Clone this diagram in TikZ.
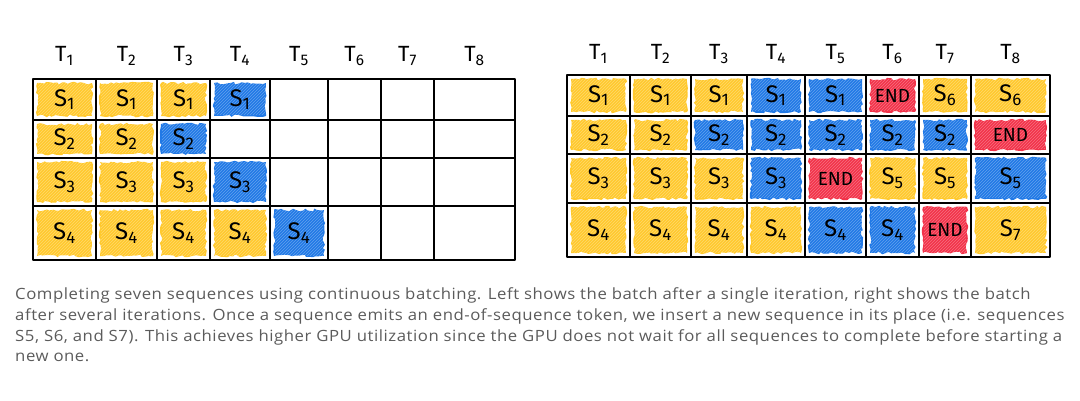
\documentclass[tikz,border=0pt]{standalone}
\usepackage{fontspec}
\setsansfont{Fira Sans}
\newfontfamily\captionfont[FakeStretch=1.08, LetterSpace=3.5]{Open Sans}
\usetikzlibrary{calc,decorations.pathmorphing,patterns}

\tikzset{
  gridline/.style={line width=1.8pt, line cap=round, line join=round},
  scribble/.style={decorate, decoration={random steps, segment length=3pt, amplitude=1.3pt}},
  celltext/.style={font=\sffamily\fontsize{24}{24}\selectfont, inner sep=0pt},
  endtext/.style={font=\sffamily\fontsize{19}{19}\selectfont, inner sep=0pt},
  headtext/.style={font=\sffamily\fontsize{22}{22}\selectfont, inner sep=0pt},
  captext/.style={font=\captionfont\fontsize{15.5}{21}\selectfont, text=capgray, inner sep=0pt, anchor=base west},
}

\begin{document}
\begin{tikzpicture}[x=1pt, y=-1pt]
    \definecolor{seqyellow}{HTML}{FFC92E}
    \definecolor{seqblue}{HTML}{2179E6}
    \definecolor{seqred}{HTML}{F2334A}
    \definecolor{capgray}{HTML}{5B5B5B}
    \pgfmathsetseed{42}

    \useasboundingbox (0,0) rectangle (1080,401);

    % Grid lines (columns are not quite even, hand drawn)
    \foreach \i/\x in {0/33,1/96,2/157,3/210,4/270,5/328,6/381,7/434,8/515}
        \coordinate (Lc\i) at (\x,0);
    \foreach \i/\y in {0/79,1/120,2/158,3/206,4/260}
        \coordinate (Lr\i) at (0,\y);
    \foreach \i/\x in {0/567,1/630,2/691,3/747,4/805,5/866,6/919,7/971,8/1050}
        \coordinate (Rc\i) at (\x,0);
    \foreach \i/\y in {0/75,1/116,2/154,3/203,4/257}
        \coordinate (Rr\i) at (0,\y);

    % Left batch: after a single iteration
    \foreach \r/\c/\clr/\txt [evaluate=\c as \pc using int(\c-1),
                              evaluate=\r as \pr using int(\r-1)] in
        {1/1/seqyellow/1, 1/2/seqyellow/1, 1/3/seqyellow/1, 1/4/seqblue/1,
         2/1/seqyellow/2, 2/2/seqyellow/2, 2/3/seqblue/2,
         3/1/seqyellow/3, 3/2/seqyellow/3, 3/3/seqyellow/3, 3/4/seqblue/3,
         4/1/seqyellow/4, 4/2/seqyellow/4, 4/3/seqyellow/4, 4/4/seqyellow/4, 4/5/seqblue/4}
    {
        \fill[\clr, scribble] ($(Lc\pc |- Lr\pr)+(4,4)$) rectangle ($(Lc\c |- Lr\r)+(-4,-4)$);
        \fill[pattern=north east lines, pattern color=white, opacity=.3]
            ($(Lc\pc |- Lr\pr)+(5,5)$) rectangle ($(Lc\c |- Lr\r)+(-5,-5)$);
        \node[celltext] (L-\r-\c) at ($(Lc\pc |- Lr\pr)!.5!(Lc\c |- Lr\r)$) {S\textsubscript{\txt}};
    }

    % Right batch: after several iterations
    \foreach \r/\c/\clr/\txt [evaluate=\c as \pc using int(\c-1),
                              evaluate=\r as \pr using int(\r-1)] in
        {1/1/seqyellow/1, 1/2/seqyellow/1, 1/3/seqyellow/1, 1/4/seqblue/1, 1/5/seqblue/1, 1/7/seqyellow/6, 1/8/seqyellow/6,
         2/1/seqyellow/2, 2/2/seqyellow/2, 2/3/seqblue/2, 2/4/seqblue/2, 2/5/seqblue/2, 2/6/seqblue/2, 2/7/seqblue/2,
         3/1/seqyellow/3, 3/2/seqyellow/3, 3/3/seqyellow/3, 3/4/seqblue/3, 3/6/seqyellow/5, 3/7/seqyellow/5, 3/8/seqblue/5,
         4/1/seqyellow/4, 4/2/seqyellow/4, 4/3/seqyellow/4, 4/4/seqyellow/4, 4/5/seqblue/4, 4/6/seqblue/4, 4/8/seqyellow/7}
    {
        \fill[\clr, scribble] ($(Rc\pc |- Rr\pr)+(4,4)$) rectangle ($(Rc\c |- Rr\r)+(-4,-4)$);
        \fill[pattern=north east lines, pattern color=white, opacity=.3]
            ($(Rc\pc |- Rr\pr)+(5,5)$) rectangle ($(Rc\c |- Rr\r)+(-5,-5)$);
        \node[celltext] (R-\r-\c) at ($(Rc\pc |- Rr\pr)!.5!(Rc\c |- Rr\r)$) {S\textsubscript{\txt}};
    }

    % end-of-sequence tokens
    \foreach \r/\c [evaluate=\c as \pc using int(\c-1),
                    evaluate=\r as \pr using int(\r-1)] in {1/6, 2/8, 3/5, 4/7}
    {
        \fill[seqred, scribble] ($(Rc\pc |- Rr\pr)+(4,4)$) rectangle ($(Rc\c |- Rr\r)+(-4,-4)$);
        \fill[pattern=north east lines, pattern color=white, opacity=.3]
            ($(Rc\pc |- Rr\pr)+(5,5)$) rectangle ($(Rc\c |- Rr\r)+(-5,-5)$);
        \node[endtext] (R-\r-\c) at ($(Rc\pc |- Rr\pr)!.5!(Rc\c |- Rr\r)$) {END};
    }

    % The two grids and their iteration labels
    \foreach \g/\hy in {L/56,R/54}
    {
        \draw[gridline] (\g c0 |- \g r0) rectangle (\g c8 |- \g r4);
        \foreach \i in {1,...,7}
            \draw[gridline] (\g c\i |- \g r0) -- (\g c\i |- \g r4);
        \foreach \i in {1,2,3}
            \draw[gridline] (\g c0 |- \g r\i) -- (\g c8 |- \g r\i);
        \foreach \i [evaluate=\i as \pi using int(\i-1)] in {1,...,8}
            \node[headtext] (\g T\i) at ($(\g c\pi)!.5!(\g c\i) + (0,\hy)$) {T\textsubscript{\i}};
    }

    % caption
    \node[captext] (cap1) at (15,299) {Completing seven sequences using continuous batching. Left shows the batch after a single iteration, right shows the batch};
    \node[captext] (cap2) at (15,320) {after several iterations. Once a sequence emits an end-of-sequence token, we insert a new sequence in its place (i.e. sequences};
    \node[captext] (cap3) at (15,341) {S5, S6, and S7). This achieves higher GPU utilization since the GPU does not wait for all sequences to complete before starting a};
    \node[captext] (cap4) at (15,361) {new one.};
\end{tikzpicture}
\end{document}
